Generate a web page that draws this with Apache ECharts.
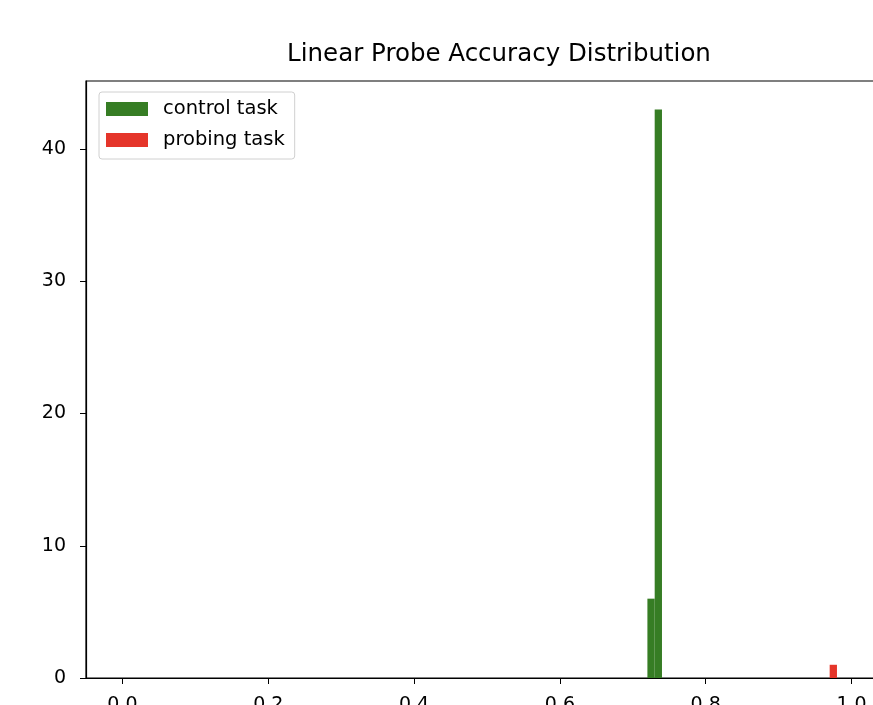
<!DOCTYPE html>
<html>
<head>
<meta charset="utf-8">
<script src="https://cdn.jsdelivr.net/npm/echarts@6/dist/echarts.min.js"></script>
<style>
html,body{margin:0;padding:0;background:#fff;}
#chart{width:873px;height:705px;}
</style>
</head>
<body>
<div id="chart"></div>
<script>
// Histogram data (bin width 0.01 over [0, 1])
const binWidth = 0.01;
const controlBinStarts = [0.72, 0.73];
const controlCounts = [6, 43];
const probingBinStarts = [0.97];
const probingCounts = [1];
const xTicks = [0.0, 0.2, 0.4, 0.6, 0.8, 1.0];
const yTicks = [0, 10, 20, 30, 40];
const seriesNames = ['control task', 'probing task'];
const colors = ['#367d24', '#e5352a'];

function toData(starts, counts) {
  return starts.map((s, i) => [s, s + binWidth, counts[i]]);
}

function renderBar(params, api) {
  const p0 = api.coord([api.value(0), api.value(2)]);
  const p1 = api.coord([api.value(1), 0]);
  return {
    type: 'rect',
    shape: { x: p0[0], y: p0[1], width: p1[0] - p0[0], height: p1[1] - p0[1] },
    style: { fill: api.visual('color') }
  };
}

const chart = echarts.init(document.getElementById('chart'), null, { renderer: 'canvas' });
const font = 'DejaVu Sans';
chart.setOption({
  animation: false,
  backgroundColor: '#fff',
  color: colors,
  title: {
    text: 'Linear Probe Accuracy Distribution',
    left: 494, top: 37, textAlign: 'center',
    textStyle: { fontFamily: font, fontSize: 24.5, fontWeight: 'normal', color: '#000' }
  },
  legend: {
    orient: 'vertical', left: 99, top: 92,
    padding: [7, 10, 9, 7],
    itemWidth: 42, itemHeight: 14, itemGap: 11,
    icon: 'rect',
    borderColor: '#d0d0d0', borderWidth: 1, borderRadius: 3,
    backgroundColor: '#fff',
    textStyle: { fontFamily: font, fontSize: 19.5, lineHeight: 20, color: '#000', padding: [0, 0, 0, 10] },
    data: seriesNames
  },
  grid: {
    left: 86, top: 81, width: 802, height: 597,
    outerBoundsMode: 'none', containLabel: false,
    show: true, borderColor: '#000', borderWidth: 1.2
  },
  xAxis: {
    type: 'value', min: -0.05, max: 1.05,
    splitLine: { show: false },
    axisLine: { show: true, onZero: false, lineStyle: { color: '#000', width: 1.2 } },
    axisTick: { show: true, inside: false, length: 6, customValues: xTicks, lineStyle: { color: '#000' } },
    axisLabel: {
      customValues: xTicks, margin: 18,
      fontFamily: font, fontSize: 19, color: '#000',
      formatter: v => v.toFixed(1)
    }
  },
  yAxis: {
    type: 'value', min: 0, max: 45.15,
    splitLine: { show: false },
    axisLine: { show: true, onZero: false, lineStyle: { color: '#000', width: 1.2 } },
    axisTick: { show: true, inside: false, length: 6, customValues: yTicks, lineStyle: { color: '#000' } },
    axisLabel: {
      customValues: yTicks, margin: 20,
      fontFamily: font, fontSize: 19, color: '#000'
    }
  },
  series: [
    { name: seriesNames[0], type: 'custom', renderItem: renderBar, encode: { x: [0, 1], y: 2 },
      data: toData(controlBinStarts, controlCounts) },
    { name: seriesNames[1], type: 'custom', renderItem: renderBar, encode: { x: [0, 1], y: 2 },
      data: toData(probingBinStarts, probingCounts) }
  ]
});
</script>
</body>
</html>
